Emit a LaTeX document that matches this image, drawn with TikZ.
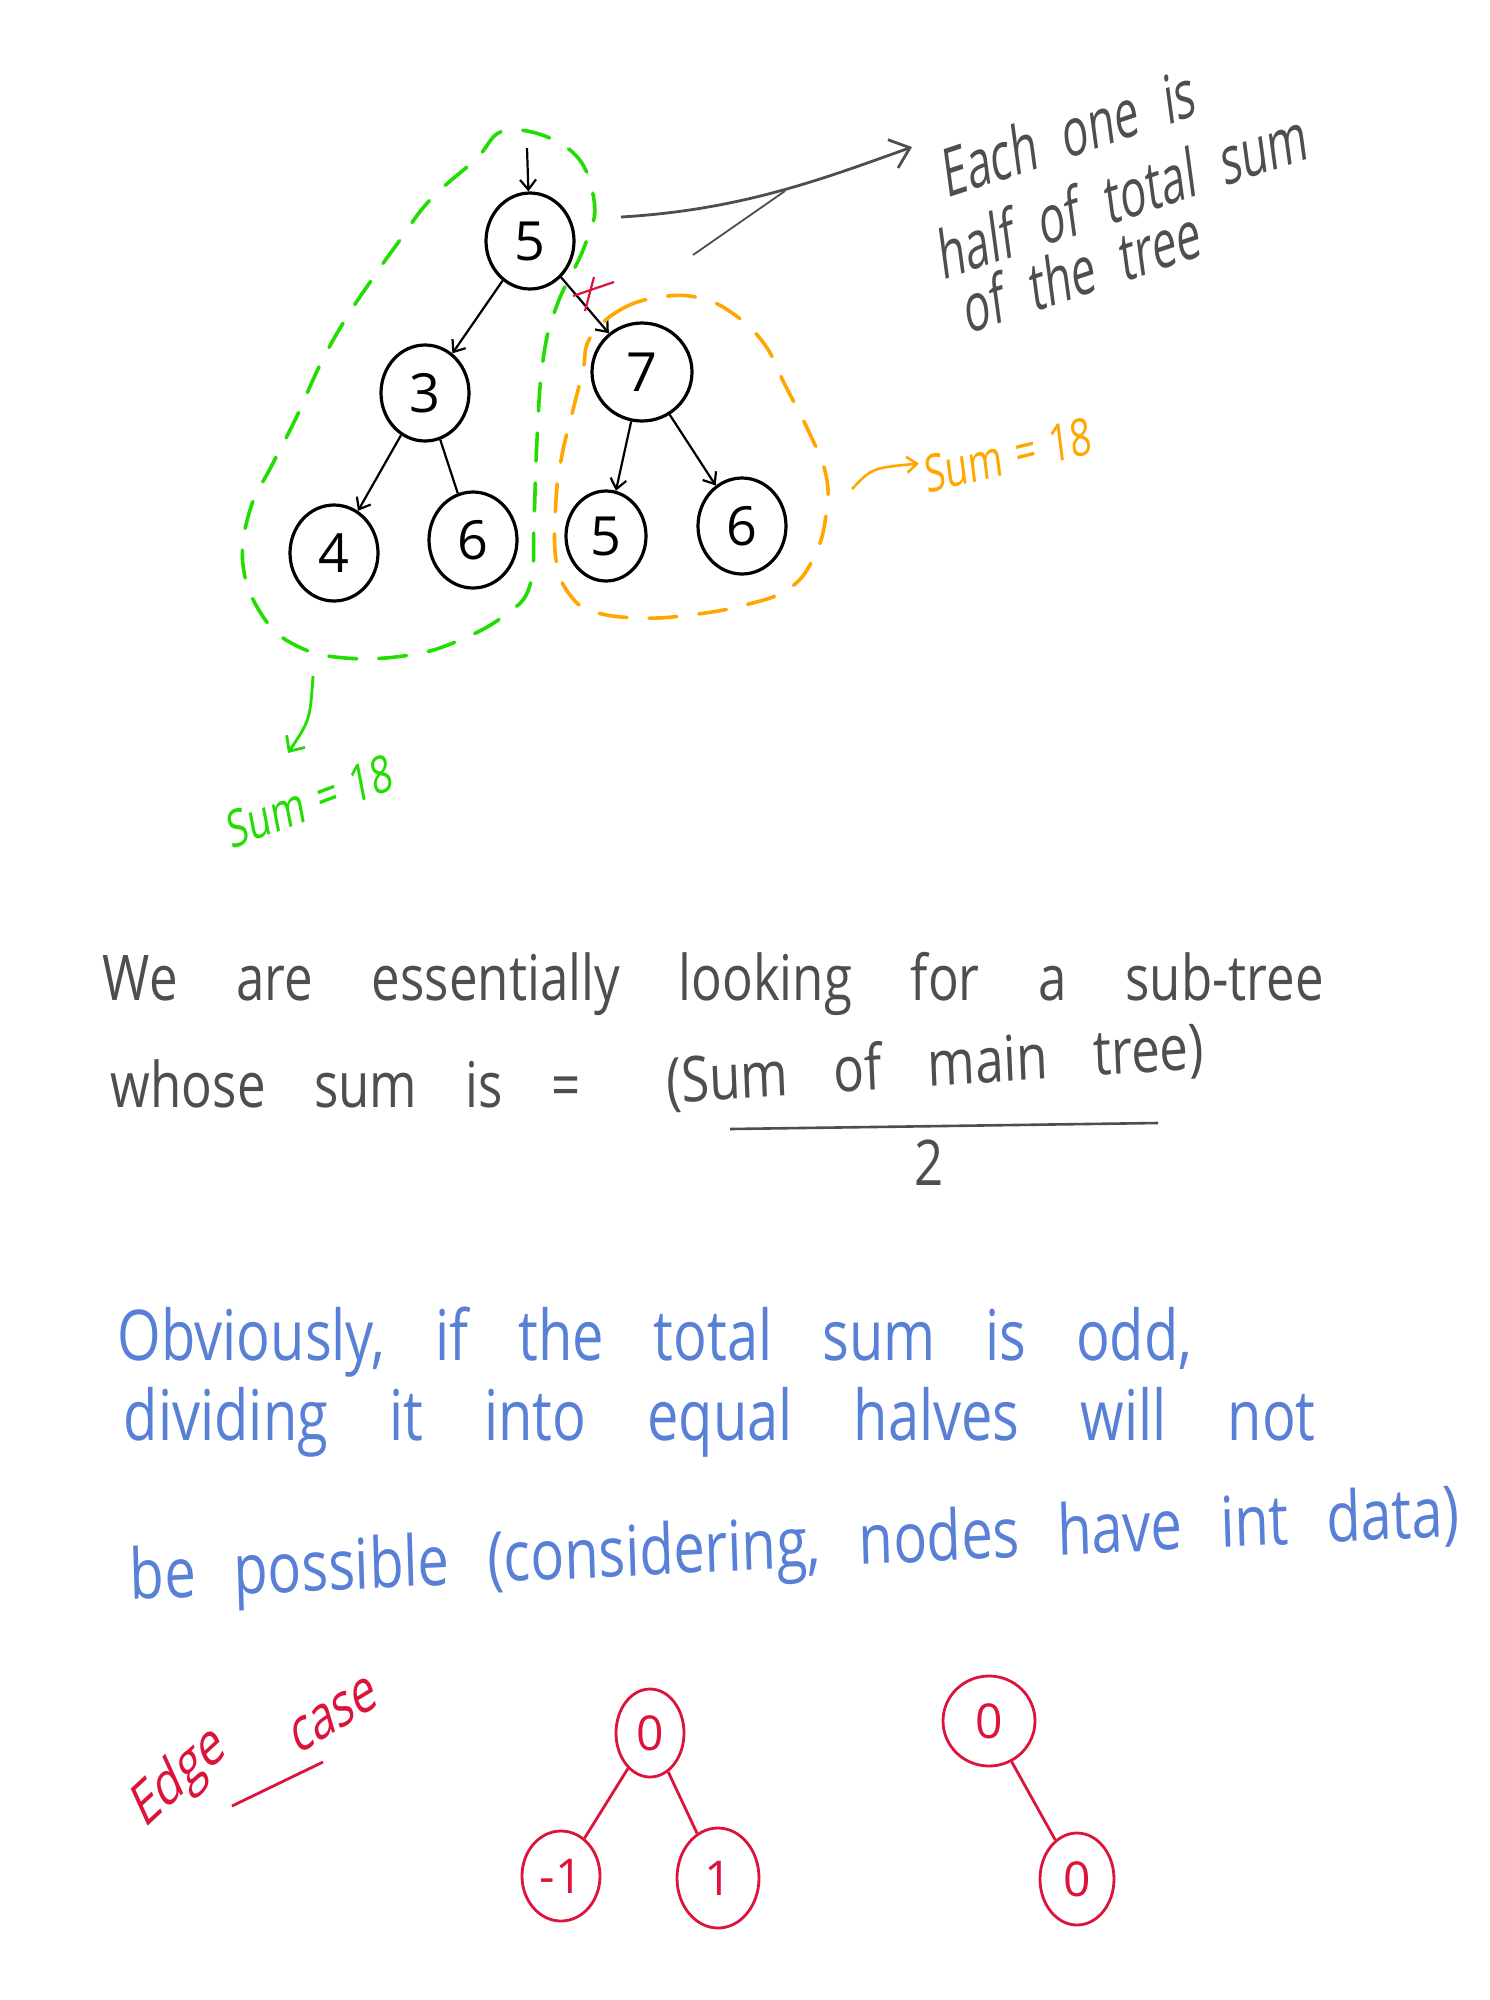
\documentclass[tikz,border=0pt]{standalone}
\usepackage{fontspec}
\setmainfont{Open Sans}
\usetikzlibrary{arrows.meta,shapes.geometric}

\definecolor{ink}{RGB}{78,78,78}
\definecolor{grn}{RGB}{34,221,0}
\definecolor{org}{RGB}{255,166,0}
\definecolor{blu}{RGB}{88,128,214}
\definecolor{crim}{RGB}{220,20,60}

\newcommand\wsp[1]{\spaceskip #1\relax}

\tikzset{
  tnode/.style={ellipse,draw,line width=3.2pt,minimum width=88pt,minimum height=96pt,inner sep=0pt,font={\fontsize{54}{54}\selectfont}},
  tedge/.style={line width=2.2pt,-{Straight Barb[length=10pt,width=16pt]}},
  rnode/.style={tnode,draw=crim,text=crim,line width=2.8pt,font={\fontsize{48}{48}\selectfont}},
  redline/.style={crim,line width=2.8pt},
  loopline/.style={line width=3.6pt,dash pattern=on 28pt off 22pt,line cap=round},
  note/.style={ink,inner sep=2pt,xscale=0.64,font={\fontsize{68}{68}\selectfont\wsp{0.6em}}},
  sumtext/.style={inner sep=6pt,xscale=0.72,font={\fontsize{52}{52}\selectfont\wsp{0.35em}}},
  blacktext/.style={ink,xscale=0.81,font={\fontsize{63}{70}\selectfont\wsp{1.15em}}},
  blackline/.style={blacktext,anchor=base west},
  blueline/.style={blu,anchor=base west,xscale=0.8,font={\fontsize{70}{76}\selectfont\wsp{0.89em}}},
  redtext/.style={crim,xscale=0.7,font={\fontsize{62}{62}\selectfont}}
}

\begin{document}
\begin{tikzpicture}[x=1pt,y=-1pt]
\fill[white] (0,0) rectangle (1490,2000);
\useasboundingbox (0,0) rectangle (1490,2000);

% main tree
\node[tnode] (root) at (530,241) {5};
\node[tnode] (n3) at (425,393) {3};
\node[tnode,minimum width=100pt,minimum height=98pt] (n7) at (642,372) {7};
\node[tnode] (n4) at (334,553) {4};
\node[tnode] (n6a) at (473,540) {6};
\node[tnode,minimum width=80pt,minimum height=90pt] (n5b) at (606,536) {5};
\node[tnode] (n6b) at (742,526) {6};

\coordinate (top) at (527,148);
\draw[tedge] (top) -- (root);
\draw[tedge] (root) -- (n3);
\draw[tedge] (root) -- (n7);
\draw[tedge] (n3) -- (n4);
\draw[line width=2.2pt] (n3) -- (n6a);
\draw[tedge] (n7) -- (n5b);
\draw[tedge] (n7) -- (n6b);
\draw[crim,line width=2.2pt] (573,296) -- (614,282) (594,277) -- (585,311);

% the two halves
\draw[grn,loopline] plot[smooth cycle,tension=0.7] coordinates {(508,130) (570,150) (594,200) (585,245) (557,305) (543,360) (537,440) (534,520) (530,585) (505,615) (460,640) (410,655) (345,658) (295,645) (262,615) (243,565) (250,510) (272,465) (296,418) (320,365) (345,320) (375,275) (400,240) (430,200) (475,160)};
\draw[org,loopline] plot[smooth cycle,tension=0.7] coordinates {(590,338) (620,310) (660,297) (700,298) (735,315) (765,345) (785,385) (808,430) (826,475) (826,515) (815,555) (790,588) (745,605) (690,615) (640,618) (595,612) (570,595) (556,560) (556,500) (562,455) (573,410) (583,370)};

% note
\node[note,rotate=12] (each) at (1069,132) {Each one is};
\node[note,rotate=12] (half) at (1123,194) {half of total sum};
\node[note,rotate=12] (ofthe) at (1082,270) {of the tree};
\coordinate (ptr) at (621,217);
\coordinate (tip) at (912,147);
\draw[ink,line width=2.8pt,-{Straight Barb[length=18pt,width=30pt]}] (ptr) .. controls (740,210) and (820,180) .. (tip);
\draw[ink,line width=1.8pt] (693,255) -- (785,191);

% sums
\node[sumtext,grn,rotate=15] (gsum) at (310,801) {Sum = 18};
\coordinate (gfrom) at (313,676);
\coordinate (gtip) at (288,753);
\draw[grn,line width=2.8pt,-{Straight Barb[length=12pt,width=22pt]}] (gfrom) .. controls (310,720) .. (gtip);
\node[sumtext,org,rotate=10] (osum) at (1008,455) {Sum = 18};
\coordinate (ofrom) at (852,489);
\draw[org,line width=2.6pt,-{Straight Barb[length=10pt,width=16pt]}] (ofrom) .. controls (872,468) .. (osum);

% text
\node[blackline] (we) at (100,1000) {We are essentially looking for a sub-tree};
\node[blackline,font={\fontsize{63}{70}\selectfont\wsp{0.95em}}] (whose) at (108,1107) {whose sum is =};
\node[blacktext,anchor=base,rotate=3,font={\fontsize{63}{70}\selectfont\wsp{0.9em}}] (numer) at (936,1086) {(Sum of main tree)};
\draw[ink,line width=2.6pt] (730,1129) -- (1158,1123);
\node[blacktext] (two) at (929,1163) {2};

\node[blueline] (obv) at (115,1360) {Obviously, if the total sum is odd,};
\node[blueline,font={\fontsize{70}{76}\selectfont\wsp{1.09em}}] (divi) at (121,1440) {dividing it into equal halves will not};
\node[blueline,rotate=2.2,font={\fontsize{70}{76}\selectfont\wsp{0.68em}}] (poss) at (128,1600) {be possible (considering, nodes have int data)};

% edge case
\node[redtext,rotate=33] (edge) at (180,1778) {Edge};
\node[redtext,rotate=23] (case) at (334,1715) {case};
\draw[redline] (232,1806) -- (323,1762);

\node[rnode,minimum width=68pt,minimum height=88pt] (r0) at (650,1733) {0};
\node[rnode,minimum width=78pt,minimum height=90pt] (rm1) at (561,1876) {-1};
\node[rnode,minimum width=82pt,minimum height=100pt] (r1) at (718,1878) {1};
\draw[redline] (r0) -- (rm1);
\draw[redline] (r0) -- (r1);

\node[rnode,minimum width=92pt,minimum height=90pt] (s0) at (989,1721) {0};
\node[rnode,minimum width=74pt,minimum height=92pt] (s0c) at (1077,1879) {0};
\draw[redline] (s0) -- (s0c);
\end{tikzpicture}
\end{document}
